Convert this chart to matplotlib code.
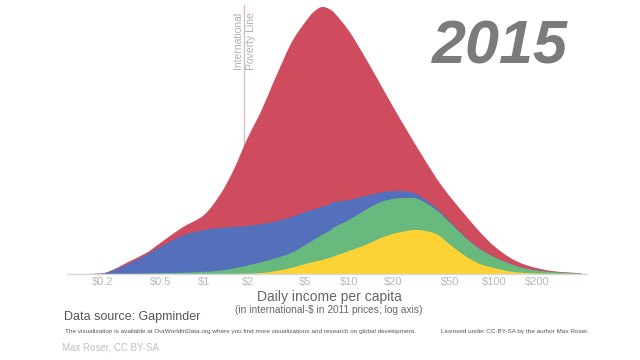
import numpy as np
import matplotlib
matplotlib.use("Agg")
import matplotlib.pyplot as plt
from matplotlib.path import Path
from matplotlib.patches import PathPatch

plt.rcParams['font.family'] = ['Liberation Sans', 'DejaVu Sans']

# ---- data ----
income = [0.15, 0.2, 0.25, 0.3, 0.4, 0.5, 0.7, 1, 1.3, 1.6, 2, 2.5, 3, 4, 5, 5.7, 6.5, 7.3,
          8, 10, 13, 16, 20, 25, 30, 40, 50, 65, 80, 100, 130, 170, 250, 400]
europe = [0, 0, 0, 0, 0, 0, 0, 0, 0, 0, 0.3, 1, 2.5, 6, 10, 12, 14, 16,
          18, 23, 29, 35, 40, 43, 44, 40, 29, 17, 10, 6, 2.5, 1, 0.2, 0]
americas = [0, 0, 0.1, 0.2, 0.4, 0.7, 1.2, 2.2, 3.5, 5.5, 8.2, 11, 12.5, 15, 19, 22, 25, 27,
            29, 31, 35, 36, 35, 33, 31, 24, 22, 18, 15, 11, 7.5, 4, 1.8, 0.5]
africa = [0, 0.5, 4.9, 9.8, 18.6, 26.3, 36.8, 41.8, 42.5, 41.5, 39.5, 38, 37, 36, 33, 30.5, 28, 26.5,
          25, 20, 14, 10, 8, 6.5, 4, 2, 1, 0.5, 0.3, 0.2, 0.1, 0, 0, 0]
asia = [0, 0.1, 1, 2, 2, 4, 8, 15, 34, 57, 88, 114, 139, 174, 190, 197.5, 200, 195.5,
        188.5, 169, 138, 112, 85, 61.5, 46, 30, 25, 21.5, 16.7, 10.8, 5.9, 3.5, 1, 0.3]
series = [europe, americas, africa, asia]
colors = ['#FDD235', '#67B97E', '#5470BD', '#CF4C5E']

tick_values = [0.2, 0.5, 1, 2, 5, 10, 20, 50, 100, 200]
tick_labels = ['$0.2', '$0.5', '$1', '$2', '$5', '$10', '$20', '$50', '$100', '$200']
poverty_line = 1.9
year = '2015'

W, H = 640, 360
fig = plt.figure(figsize=(W / 100, H / 100), dpi=100)
ax = fig.add_axes([67 / W, (H - 274) / H, 520 / W, 274 / H])
ax.set_xscale('log')
ax.set_xlim(10 ** ((67 - 204) / 145), 10 ** ((587 - 204) / 145))
ax.set_ylim(0, 274)


def smooth_area(xs, ys):
    lx = np.log10(np.asarray(xs, float))
    y = np.asarray(ys, float)
    n = len(lx)
    px = np.concatenate([[lx[0]], lx, [lx[-1]]])
    py = np.concatenate([[y[0]], y, [y[-1]]])
    verts = [(xs[0], 0), (xs[0], y[0])]
    codes = [Path.MOVETO, Path.LINETO]
    for i in range(n - 1):
        a = i + 1
        c1x = px[a] + (px[a + 1] - px[a - 1]) / 6
        c1y = py[a] + (py[a + 1] - py[a - 1]) / 6
        c2x = px[a + 1] - (px[a + 2] - px[a]) / 6
        c2y = py[a + 1] - (py[a + 2] - py[a]) / 6
        verts += [(10 ** c1x, max(c1y, 0)), (10 ** c2x, max(c2y, 0)), (xs[i + 1], y[i + 1])]
        codes += [Path.CURVE4] * 3
    verts += [(xs[-1], 0), (xs[0], 0)]
    codes += [Path.LINETO, Path.CLOSEPOLY]
    return Path(verts, codes)


cum = np.cumsum(np.array(series, float), axis=0)
# poverty line behind the areas
ax.plot([poverty_line, poverty_line], [0, 269], color='#dcbcc2', lw=1, zorder=1)
ax.text(poverty_line, 262, 'International\nPoverty Line', rotation=90, ha='center', va='top',
        multialignment='right', fontsize=7.5, color='#b0b0b0', linespacing=1.3, zorder=1)
for k in range(len(series) - 1, -1, -1):
    ax.add_patch(PathPatch(smooth_area(income, cum[k]), facecolor=colors[k],
                           edgecolor='none', zorder=2 + (3 - k)))

for s in ['top', 'right', 'left']:
    ax.spines[s].set_visible(False)
ax.spines['bottom'].set_color('#d8d8d8')
ax.spines['bottom'].set_linewidth(1)
ax.spines['bottom'].set_zorder(10)
ax.set_yticks([])
ax.set_xticks(tick_values)
ax.set_xticklabels(tick_labels)
ax.xaxis.set_minor_locator(matplotlib.ticker.NullLocator())
ax.tick_params(axis='x', length=0, pad=2, labelsize=8, labelcolor='#b8b8b8')

fig.text(432 / W, 1 - 63 / H, year, fontsize=44, fontweight='bold', style='italic',
         color='#7b7b7b', ha='left', va='baseline')
fig.text(329 / W, 1 - 297 / H, 'Daily income per capita', fontsize=10, color='#666666',
         ha='center', va='center')
fig.text(329 / W, 1 - 310 / H, '(in international-$ in 2011 prices; log axis)', fontsize=7.3,
         color='#666666', ha='center', va='center')
fig.text(64 / W, 1 - 317 / H, 'Data source: Gapminder', fontsize=9, color='#555555',
         ha='left', va='center')
fig.text(65 / W, 1 - 331 / H, 'The visualization is available at OurWorldinData.org where you find '
         'more visualizations and research on global development.', fontsize=4.6,
         color='#555555', ha='left', va='center')
fig.text(589 / W, 1 - 331 / H, 'Licensed under CC-BY-SA by the author Max Roser.', fontsize=4.6,
         color='#555555', ha='right', va='center')
fig.text(62 / W, 1 - 347 / H, 'Max Roser, CC BY-SA', fontsize=7, color='#c0c0c0',
         ha='left', va='center')

fig.savefig('out.png', dpi=100)
